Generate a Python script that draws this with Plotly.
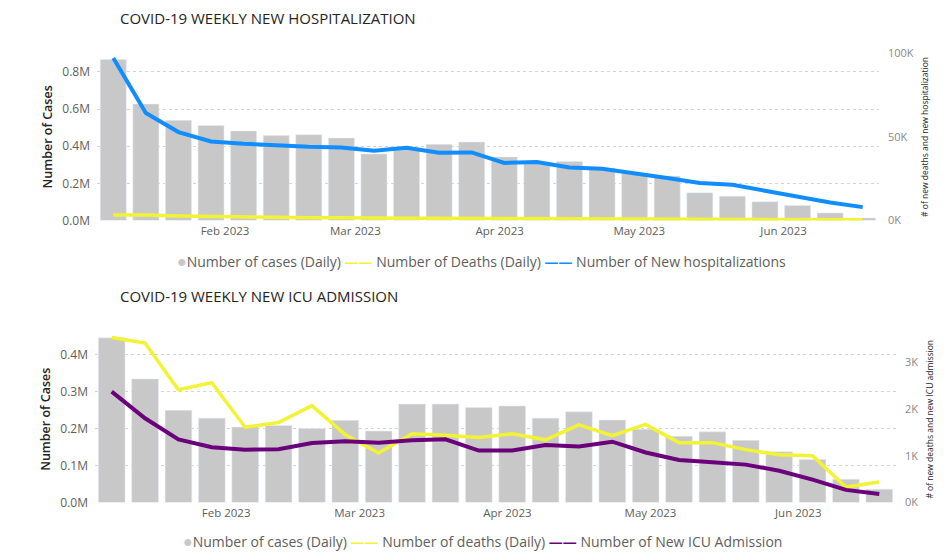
import plotly.graph_objects as go
import pandas as pd

# ---------------- data ----------------
weeks = pd.date_range("2023-01-08", periods=24, freq="7D")

# Top chart: hospitalization
top_cases = [0.867e6, 0.627e6, 0.539e6, 0.511e6, 0.482e6, 0.457e6, 0.462e6, 0.444e6,
             0.358e6, 0.39e6, 0.41e6, 0.422e6, 0.342e6, 0.315e6, 0.317e6, 0.282e6,
             0.252e6, 0.239e6, 0.149e6, 0.131e6, 0.101e6, 0.081e6, 0.041e6, 0.014e6]
top_deaths = [3300, 3300, 2700, 2400, 1800, 1700, 1700, 1600, 1300, 1400, 1400, 1300,
              1300, 1300, 1300, 1200, 1200, 1000, 1000, 900, 800, 800, 400, 400]
top_hosp = [97200, 64300, 52900, 47300, 45900, 44700, 44100, 43700, 41700, 43500,
            40500, 40700, 34400, 35000, 31700, 31000, 28400, 25400, 22400, 21400,
            17800, 14000, 10800, 8000]

# Bottom chart: ICU admission
bot_cases = [0.445e6, 0.334e6, 0.249e6, 0.228e6, 0.204e6, 0.208e6, 0.200e6, 0.222e6,
             0.193e6, 0.266e6, 0.266e6, 0.257e6, 0.261e6, 0.228e6, 0.245e6, 0.223e6,
             0.198e6, 0.179e6, 0.191e6, 0.168e6, 0.137e6, 0.116e6, 0.063e6, 0.036e6]
bot_deaths = [3530, 3410, 2410, 2560, 1610, 1710, 2070, 1450, 1060, 1470, 1440, 1390,
              1470, 1340, 1660, 1430, 1670, 1280, 1280, 1130, 1020, 1000, 330, 440]
bot_icu = [2370, 1800, 1350, 1180, 1130, 1140, 1270, 1310, 1280, 1330, 1350, 1110,
           1110, 1230, 1200, 1300, 1070, 910, 860, 810, 680, 490, 270, 180]

month_ticks = ["2023-02-01", "2023-03-01", "2023-04-01", "2023-05-01", "2023-06-01"]
month_labels = ["Feb 2023", "Mar 2023", "Apr 2023", "May 2023", "Jun 2023"]
top_left_ticks = [0, 0.2e6, 0.4e6, 0.6e6, 0.8e6]
top_left_labels = ["0.0M", "0.2M", "0.4M", "0.6M", "0.8M"]
top_right_ticks = [0, 50000, 100000]
top_right_labels = ["0K", "50K", "100K"]
bot_left_ticks = [0, 0.1e6, 0.2e6, 0.3e6, 0.4e6]
bot_left_labels = ["0.0M", "0.1M", "0.2M", "0.3M", "0.4M"]
bot_right_ticks = [0, 1000, 2000, 3000]
bot_right_labels = ["0K", "1K", "2K", "3K"]

top_names = ["Number of cases (Daily)", "Number of Deaths (Daily)", "Number of New hospitalizations"]
bot_names = ["Number of cases (Daily)", "Number of deaths (Daily)", "Number of New ICU Admission"]

# ---------------- style ----------------
FONT = "Open Sans"
GRAY_BAR = "#C8C8C8"
YELLOW = "#F3F335"
BLUE = "#118DFF"
PURPLE = "#6B007B"
TICK_COL = "#605E5C"
TITLE_COL = "#252423"

# page body has an 8px margin; figure sized to the 945x558 window minus it
OFF = 8
W, H = 937, 550


def fx(px):
    return (px - OFF) / W


def fy(py):
    return 1 - (py - OFF) / H


day_ms = 24 * 3600 * 1000
bar_w = 0.8 * 7 * day_ms
xr = [weeks[0] - pd.Timedelta(days=3.5), weeks[-1] + pd.Timedelta(days=3.5)]

fig = go.Figure()

# ---- top traces ----
fig.add_trace(go.Bar(x=weeks, y=top_cases, width=bar_w, marker_color=GRAY_BAR, name=top_names[0],
                     showlegend=False, xaxis="x", yaxis="y"))
fig.add_trace(go.Scatter(x=weeks, y=top_deaths, mode="lines", line=dict(color=YELLOW, width=3.5),
                         name=top_names[1], showlegend=False, xaxis="x", yaxis="y2"))
fig.add_trace(go.Scatter(x=weeks, y=top_hosp, mode="lines", line=dict(color=BLUE, width=4),
                         name=top_names[2], showlegend=False, xaxis="x", yaxis="y2"))

# ---- bottom traces ----
fig.add_trace(go.Bar(x=weeks, y=bot_cases, width=bar_w, marker_color=GRAY_BAR, name=bot_names[0],
                     showlegend=False, xaxis="x2", yaxis="y3"))
fig.add_trace(go.Scatter(x=weeks, y=bot_deaths, mode="lines", line=dict(color=YELLOW, width=3.5),
                         name=bot_names[1], showlegend=False, xaxis="x2", yaxis="y4"))
fig.add_trace(go.Scatter(x=weeks, y=bot_icu, mode="lines", line=dict(color=PURPLE, width=4),
                         name=bot_names[2], showlegend=False, xaxis="x2", yaxis="y4"))

tickfont = dict(family=FONT, size=12, color=TICK_COL)
rtickfont = dict(family=FONT, size=11, color="#8A8886")
xcommon = dict(type="date", range=xr, tickvals=month_ticks, ticktext=month_labels,
               showgrid=False, zeroline=False, showline=False, ticks="", ticklabelstandoff=2,
               tickfont=dict(family=FONT, size=11.5, color=TICK_COL))
ycommon_left = dict(showgrid=True, gridcolor="#D4D4D4", griddash="dot", gridwidth=1,
                    zeroline=False, showline=False, ticks="", tickfont=tickfont,
                    ticklabelstandoff=6,
                    title_font=dict(family=FONT, size=12.5, color=TITLE_COL, weight=600),
                    title_standoff=6)
ycommon_right = dict(showgrid=False, zeroline=False, showline=False, ticks="", side="right",
                     tickfont=rtickfont, ticklabelstandoff=8,
                     title_font=dict(family=FONT, size=8.5, color=TITLE_COL),
                     title_standoff=9)

top_y = [fy(220.5), fy(53.3)]
bot_y = [fy(502.5), fy(336)]


def legend_text(names, colors):
    parts = [f'<span style="color:{colors[0]};font-size:16px">●</span>{names[0]}']
    for n, c in zip(names[1:], colors[1:]):
        parts.append(f'<span style="color:{c}"><b>——</b></span> {n}')
    return " ".join(parts)


fig.update_layout(
    width=W, height=H, margin=dict(l=0, r=0, t=0, b=0, autoexpand=False),
    paper_bgcolor="white", plot_bgcolor="white", barmode="overlay", showlegend=False,
    font=dict(family=FONT, color=TICK_COL),
    xaxis=dict(domain=[fx(97), fx(879)], anchor="y", **xcommon),
    yaxis=dict(domain=top_y, range=[0, 0.9e6], tickvals=top_left_ticks, ticktext=top_left_labels,
               title_text="Number of Cases", anchor="x", **ycommon_left),
    yaxis2=dict(range=[0, 100000], tickvals=top_right_ticks, ticktext=top_right_labels,
                overlaying="y", anchor="x", title_text="# of new deaths and new hospitalization",
                **ycommon_right),
    xaxis2=dict(domain=[fx(95), fx(896)], anchor="y3", **xcommon),
    yaxis3=dict(domain=bot_y, range=[0, 0.45e6], tickvals=bot_left_ticks, ticktext=bot_left_labels,
                title_text="Number of Cases", anchor="x2", **ycommon_left),
    yaxis4=dict(range=[0, 3560], tickvals=bot_right_ticks, ticktext=bot_right_labels,
                overlaying="y3", anchor="x2", title_text="# of new deaths and new ICU admission",
                **ycommon_right),
    annotations=[
        dict(text="COVID-19 WEEKLY NEW HOSPITALIZATION", x=fx(118), y=fy(18), xref="paper",
             yref="paper", xanchor="left", yanchor="middle", showarrow=False,
             font=dict(family=FONT, size=15, color=TITLE_COL)),
        dict(text="COVID-19 WEEKLY NEW ICU ADMISSION", x=fx(118), y=fy(296), xref="paper",
             yref="paper", xanchor="left", yanchor="middle", showarrow=False,
             font=dict(family=FONT, size=15, color=TITLE_COL)),
        dict(text=legend_text(top_names, [GRAY_BAR, YELLOW, BLUE]), x=fx(481), y=fy(261),
             xref="paper", yref="paper", xanchor="center", yanchor="middle", showarrow=False,
             font=dict(family=FONT, size=14, color=TICK_COL)),
        dict(text=legend_text(bot_names, [GRAY_BAR, YELLOW, PURPLE]), x=fx(483), y=fy(541),
             xref="paper", yref="paper", xanchor="center", yanchor="middle", showarrow=False,
             font=dict(family=FONT, size=14, color=TICK_COL)),
    ],
)

fig.write_html("out.html")
